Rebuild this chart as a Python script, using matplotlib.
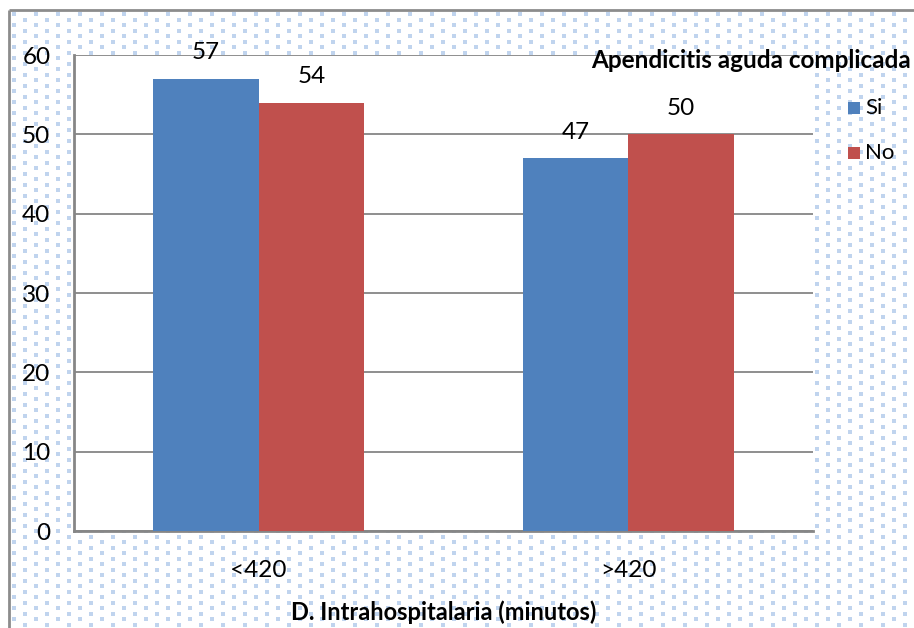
import numpy as np
import matplotlib
matplotlib.use("Agg")
import matplotlib.pyplot as plt
from matplotlib.patches import Rectangle

plt.rcParams['font.family'] = ['Lato', 'DejaVu Sans']

categories = ["<420", ">420"]
series_names = ["Si", "No"]
si_values = [57, 47]
no_values = [54, 50]
y_ticks = [0, 10, 20, 30, 40, 50, 60]

BLUE = "#4F81BD"
RED = "#C0504D"
W, H = 914, 628

fig = plt.figure(figsize=(W / 100, H / 100), dpi=100)
fig.patch.set_facecolor("white")

# dotted backdrop across the chart area, in pixel coordinates
bg = fig.add_axes([0, 0, 1, 1], zorder=0)
bg.set_xlim(0, W)
bg.set_ylim(H, 0)
bg.axis("off")
xs, ys = [], []
for i, x in enumerate(np.arange(14, W, 11)):
    off = 0 if i % 2 == 0 else 5.5
    for y in np.arange(14 + off, H, 11):
        xs.append(x)
        ys.append(y)
bg.scatter(xs, ys, s=7, marker="s", color="#C0D4EE", linewidths=0)
bg.plot([9, 9], [10, H], color="#8C8C8C", lw=2, solid_capstyle="butt")
bg.plot([9, W], [10, 10], color="#8C8C8C", lw=2, solid_capstyle="butt")

# main plot area
left, right, top, bottom = 74, 813, 55, 531
ax = fig.add_axes([left / W, 1 - bottom / H, (right - left) / W, (bottom - top) / H], zorder=1)
ax.set_facecolor("white")

x = np.arange(len(categories))
bw = 0.2857
b1 = ax.bar(x - bw / 2, si_values, bw, color=BLUE, label=series_names[0], zorder=3)
b2 = ax.bar(x + bw / 2, no_values, bw, color=RED, label=series_names[1], zorder=3)

for bars, vals in ((b1, si_values), (b2, no_values)):
    for rect, v in zip(bars, vals):
        ax.annotate(str(v), (rect.get_x() + rect.get_width() / 2, v),
                    xytext=(0, 26), textcoords="offset pixels",
                    ha="center", va="center", fontsize=17.5, color="black", zorder=4)

ax.set_xlim(-0.5, 1.5)
ax.set_ylim(0, 60)
ax.set_yticks(y_ticks)
ax.set_xticks(x)
ax.set_xticklabels(categories, fontsize=17.5)
ax.tick_params(axis="y", length=0, labelsize=17.5, pad=17)
ax.tick_params(axis="x", length=0, pad=21)
ax.grid(axis="y", color="#868686", lw=1.3, zorder=0)
ax.set_axisbelow(True)
for s in ("top", "right"):
    ax.spines[s].set_visible(False)
for s in ("left", "bottom"):
    ax.spines[s].set_color("#868686")
    ax.spines[s].set_linewidth(2)

ax.set_xlabel("D. Intrahospitalaria (minutos)", fontsize=17, fontweight="bold", labelpad=14)

# legend in the right margin
fig.text(591 / W, 1 - 60 / H, "Apendicitis aguda complicada", fontsize=17.5,
         fontweight="bold", ha="left", va="center", zorder=5)
for name, color, yp in ((series_names[0], BLUE, 108), (series_names[1], RED, 153)):
    fig.patches.append(Rectangle(((848) / W, 1 - (yp + 6) / H), 12 / W, 12 / H,
                                 transform=fig.transFigure, facecolor=color,
                                 edgecolor="none", zorder=5))
    fig.text(865 / W, 1 - yp / H, name, fontsize=16, ha="left", va="center", zorder=5)

fig.savefig("out.png", dpi=100)
